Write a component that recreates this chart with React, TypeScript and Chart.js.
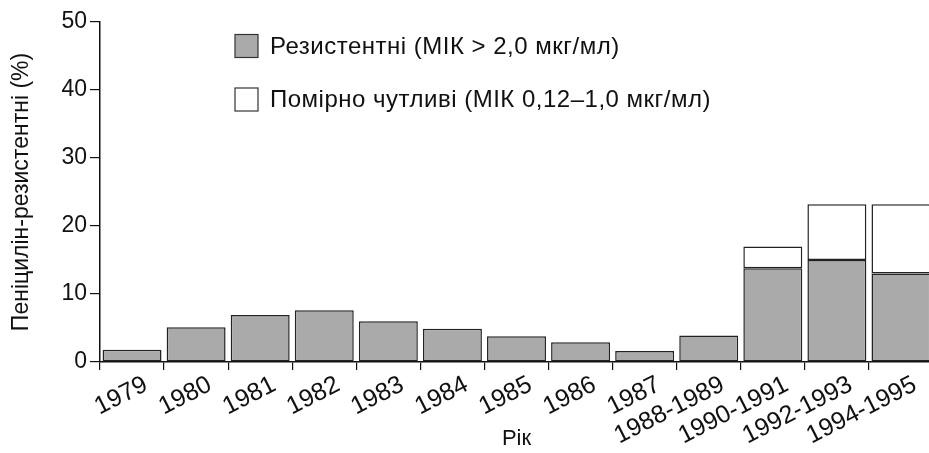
import React, { useEffect, useRef } from "react";
import { Chart, registerables } from "chart.js";

Chart.register(...registerables);

const categories = ["1979", "1980", "1981", "1982", "1983", "1984", "1985", "1986", "1987", "1988-1989", "1990-1991", "1992-1993", "1994-1995"];
const resistant = [1.8, 5.1, 6.9, 7.6, 6.0, 4.9, 3.8, 2.9, 1.6, 3.9, 13.8, 15.0, 13.0];
const intermediate = [null, null, null, null, null, null, null, null, null, null, 3.2, 8.2, 10.2];
const seriesLabels = ["Резистентні (МІК > 2,0 мкг/мл)", "Помірно чутливі (МІК 0,12–1,0 мкг/мл)"];
const yTitle = "Пеніцилін-резистентні (%)";
const xTitle = "Рік";

const FONT = "'Liberation Sans', Arial, Helvetica, sans-serif";
const INK = "#111111";

const legendPlugin = {
  id: "insideLegend",
  afterDraw(chart: any) {
    const { ctx, chartArea } = chart;
    const x0 = chartArea.left + 135;
    const rows = [46, 99.5];
    ctx.save();
    chart.data.datasets.forEach((ds: any, i: number) => {
      const cy = rows[i];
      ctx.fillStyle = ds.backgroundColor;
      ctx.fillRect(x0, cy - 11.5, 23, 23);
      ctx.strokeStyle = "#333";
      ctx.lineWidth = 1.2;
      ctx.strokeRect(x0, cy - 11.5, 23, 23);
      ctx.fillStyle = INK;
      ctx.font = `24px ${FONT}`;
      try { (ctx as any).letterSpacing = "0.5px"; } catch (e) {}
      ctx.textBaseline = "middle";
      ctx.textAlign = "left";
      ctx.fillText(ds.label, x0 + 35, cy + 1);
    });
    ctx.restore();
  },
};

export default function App() {
  const ref = useRef<HTMLCanvasElement>(null);
  useEffect(() => {
    if (!ref.current) return;
    const chart = new Chart(ref.current, {
      type: "bar",
      data: {
        labels: categories,
        datasets: [
          {
            label: seriesLabels[0],
            data: resistant,
            backgroundColor: "#aaaaaa",
            borderColor: "#222222",
            borderWidth: 1.5,
            borderSkipped: false,
            categoryPercentage: 1,
            barPercentage: 0.92,
          },
          {
            label: seriesLabels[1],
            data: intermediate as any,
            backgroundColor: "#ffffff",
            borderColor: "#222222",
            borderWidth: 1.5,
            borderSkipped: false,
            categoryPercentage: 1,
            barPercentage: 0.92,
          },
        ],
      },
      options: {
        responsive: false,
        animation: false,
        layout: { padding: { top: 22, right: 7, bottom: 0, left: 0 } },
        plugins: {
          legend: { display: false },
          tooltip: { enabled: false },
        },
        scales: {
          x: {
            stacked: true,
            afterFit: (s: any) => { s.height = 91; },
            grid: { offset: true, drawOnChartArea: false, tickLength: 8, color: INK, lineWidth: 1.2 },
            border: { color: INK, width: 1.5 },
            ticks: {
              color: INK,
              font: { family: FONT, size: 25 },
              minRotation: 27,
              maxRotation: 27,
              autoSkip: false,
              padding: 0,
              labelOffset: 14,
            },
            title: { display: true, text: xTitle, color: INK, font: { family: FONT, size: 22 }, padding: { top: 0, bottom: 1 } },
          },
          y: {
            stacked: true,
            min: 0,
            max: 50,
            afterFit: (s: any) => { s.width = 100; },
            grid: { drawOnChartArea: false, tickLength: 10, color: INK, lineWidth: 1.2 },
            border: { color: INK, width: 1.5 },
            ticks: { stepSize: 10, color: INK, font: { family: FONT, size: 23 }, padding: 3 },
            title: { display: true, text: yTitle, color: INK, font: { family: FONT, size: 23 }, padding: { top: 8, bottom: 0 } },
          },
        },
      },
      plugins: [legendPlugin],
    });
    return () => chart.destroy();
  }, []);
  return (
    <div style={{ position: "absolute", left: 0, top: 0, width: 929, height: 453, overflow: "hidden", background: "#fff" }}>
      <canvas ref={ref} width={940} height={453} style={{ display: "block" }} />
    </div>
  );
}
